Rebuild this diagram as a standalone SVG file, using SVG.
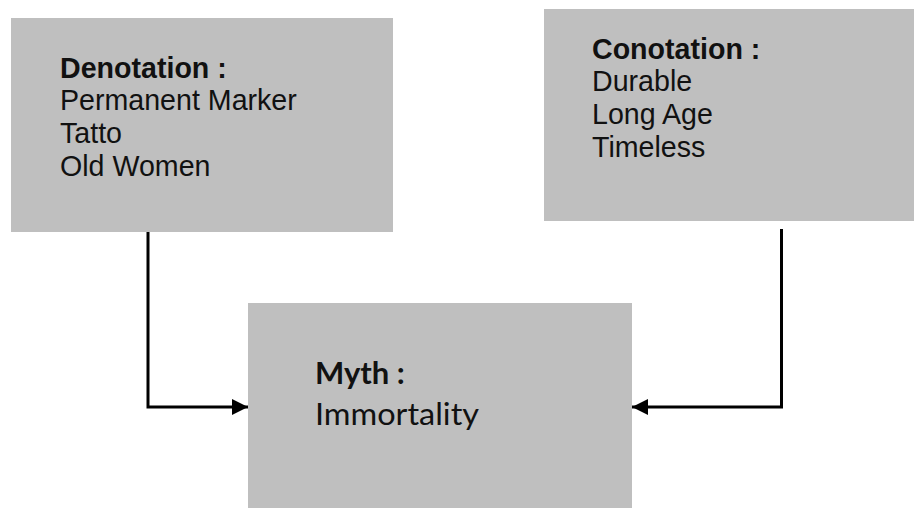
<svg xmlns="http://www.w3.org/2000/svg" width="914" height="508" viewBox="0 0 914 508">
<style>
.box{fill:#bfbfbf}
.t{font-family:"Liberation Sans",Arial,sans-serif;font-size:28.6px;fill:#111}
.b{font-weight:bold}
.m{font-family:Lato,"Open Sans",sans-serif;font-size:31px;fill:#111}
.c{fill:none;stroke:#000;stroke-width:3}
</style>
<defs>
<marker id="ah" markerUnits="userSpaceOnUse" markerWidth="16" markerHeight="16" viewBox="0 0 16 16" refX="16" refY="8" orient="auto">
<path d="M0,0 L16,8 L0,16 z" fill="#000"/>
</marker>
</defs>
<rect width="914" height="508" fill="#fff"/>
<g id="denotation">
<rect class="box" x="11" y="18" width="382" height="214"/>
<text class="t b" x="60" y="78">Denotation :</text>
<text class="t" x="60" y="110">Permanent Marker</text>
<text class="t" x="60" y="143">Tatto</text>
<text class="t" x="60" y="176">Old Women</text>
</g>
<g id="conotation">
<rect class="box" x="544" y="9" width="370" height="212"/>
<text class="t b" x="592" y="59">Conotation :</text>
<text class="t" x="592" y="91">Durable</text>
<text class="t" x="592" y="124">Long Age</text>
<text class="t" x="592" y="157">Timeless</text>
</g>
<g id="myth">
<rect class="box" x="248" y="303" width="384" height="205"/>
<text class="m b" x="315" y="384">Myth :</text>
<text class="m" x="315" y="425" textLength="164" lengthAdjust="spacingAndGlyphs">Immortality</text>
</g>
<g id="connectors">
<path class="c" d="M148,232 V407 H248" marker-end="url(#ah)"/>
<path class="c" d="M781.5,229 V407 H632" marker-end="url(#ah)"/>
</g>
</svg>
